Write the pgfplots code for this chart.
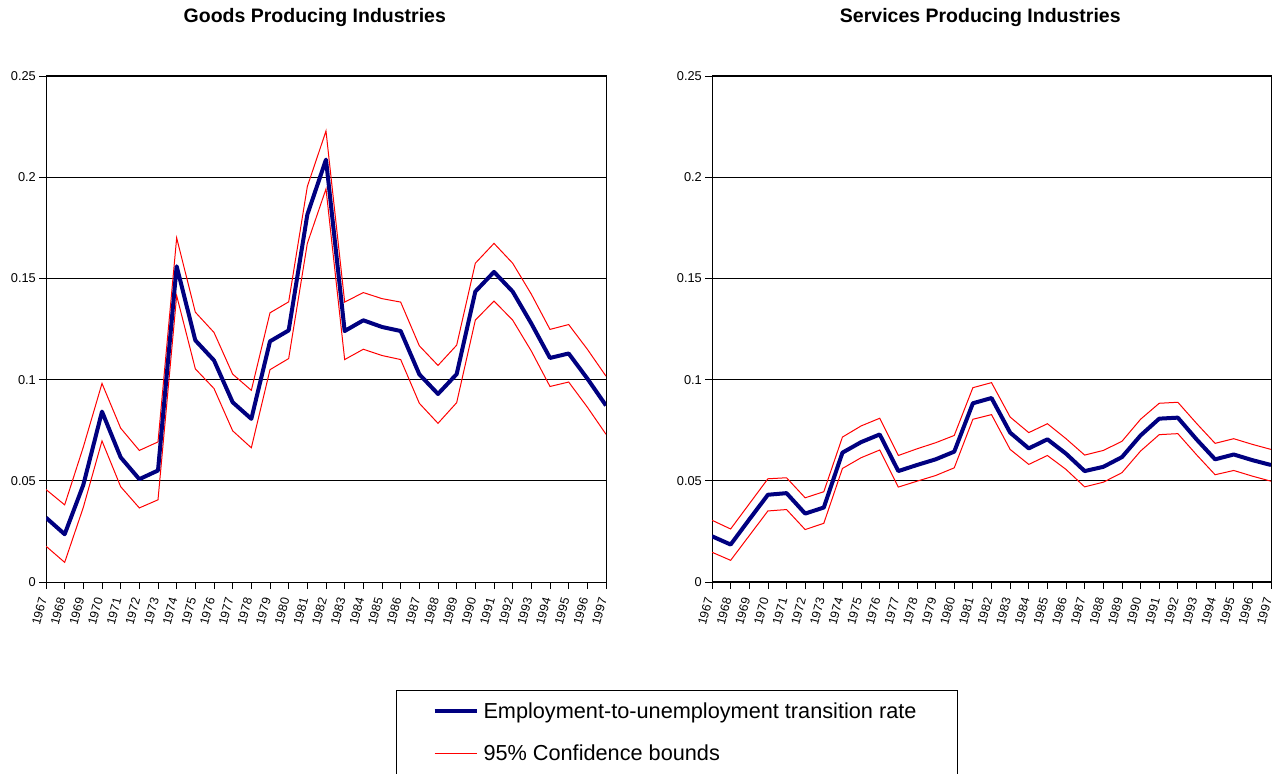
\documentclass[border=0pt]{standalone}
\usepackage{pgfplots}
\pgfplotsset{compat=1.18}
\usepackage{pgfplotstable}
\usepackage{fontspec}
\setmainfont{Liberation Sans}
\definecolor{navyline}{RGB}{0,0,128}

\pgfplotstableread{
year main upper lower
1967 0.0318 0.0457 0.0177
1968 0.0236 0.0381 0.0097
1969 0.0480 0.0667 0.0369
1970 0.0842 0.0981 0.0697
1971 0.0616 0.0760 0.0471
1972 0.0508 0.0650 0.0366
1973 0.0551 0.0692 0.0406
1974 0.1560 0.1700 0.1415
1975 0.1194 0.1333 0.1053
1976 0.1095 0.1233 0.0956
1977 0.0888 0.1027 0.0747
1978 0.0806 0.0947 0.0663
1979 0.1189 0.1330 0.1049
1980 0.1243 0.1384 0.1104
1981 0.1815 0.1954 0.1673
1982 0.2087 0.2228 0.1942
1983 0.1240 0.1383 0.1099
1984 0.1293 0.1430 0.1150
1985 0.1260 0.1400 0.1119
1986 0.1240 0.1383 0.1099
1987 0.1026 0.1167 0.0883
1988 0.0929 0.1070 0.0784
1989 0.1027 0.1170 0.0886
1990 0.1435 0.1575 0.1294
1991 0.1532 0.1673 0.1388
1992 0.1435 0.1575 0.1294
1993 0.1277 0.1422 0.1141
1994 0.1107 0.1248 0.0966
1995 0.1129 0.1272 0.0988
1996 0.1005 0.1150 0.0864
1997 0.0872 0.1017 0.0730
}\goods

\pgfplotstableread{
year main upper lower
1967 0.0226 0.0305 0.0147
1968 0.0185 0.0262 0.0107
1969 0.0309 0.0386 0.0229
1970 0.0431 0.0510 0.0351
1971 0.0439 0.0515 0.0358
1972 0.0338 0.0416 0.0259
1973 0.0368 0.0446 0.0290
1974 0.0639 0.0716 0.0561
1975 0.0691 0.0771 0.0614
1976 0.0729 0.0809 0.0652
1977 0.0548 0.0625 0.0469
1978 0.0578 0.0658 0.0498
1979 0.0606 0.0688 0.0526
1980 0.0644 0.0724 0.0564
1981 0.0883 0.0960 0.0804
1982 0.0909 0.0985 0.0827
1983 0.0738 0.0815 0.0655
1984 0.0660 0.0738 0.0581
1985 0.0705 0.0782 0.0625
1986 0.0634 0.0708 0.0556
1987 0.0548 0.0627 0.0470
1988 0.0569 0.0650 0.0493
1989 0.0617 0.0695 0.0540
1990 0.0724 0.0804 0.0647
1991 0.0807 0.0883 0.0728
1992 0.0812 0.0888 0.0733
1993 0.0705 0.0784 0.0629
1994 0.0606 0.0685 0.0530
1995 0.0630 0.0708 0.0551
1996 0.0602 0.0680 0.0523
1997 0.0578 0.0655 0.0498
}\services

\pgfplotsset{
  panel/.style={
    scale only axis,
    height=506pt,
    xmin=1967, xmax=1997,
    ymin=0, ymax=0.25,
    xtick={1967,1968,1969,1970,1971,1972,1973,1974,1975,1976,1977,1978,1979,1980,1981,1982,1983,1984,1985,1986,1987,1988,1989,1990,1991,1992,1993,1994,1995,1996,1997},
    xticklabels={1967,1968,1969,1970,1971,1972,1973,1974,1975,1976,1977,1978,1979,1980,1981,1982,1983,1984,1985,1986,1987,1988,1989,1990,1991,1992,1993,1994,1995,1996,1997},
    ytick={0,0.05,0.1,0.15,0.2,0.25},
    yticklabels={0,0.05,0.1,0.15,0.2,0.25},
    scaled y ticks=false,
    /pgf/number format/assume math mode=true,
    xtick pos=bottom, ytick pos=left,
    tick align=outside,
    major tick length=7pt,
    tick style={black, line width=0.8pt},
    axis line style={black, line width=1pt},
    ymajorgrids,
    major grid style={black, line width=0.8pt},
    yticklabel style={font=\fontsize{12.8}{14}\selectfont, inner sep=0pt, anchor=east, xshift=-3pt},
    xticklabel style={font=\fontsize{12.3}{13}\selectfont, inner sep=0pt, xshift=-3pt, yshift=-9pt, rotate=75, anchor=east},
    title style={font=\bfseries\fontsize{19.5}{22}\selectfont, anchor=center},
  },
  bound/.style={red, line width=1pt, forget plot},
  mainline/.style={navyline, line width=4pt, line join=round, forget plot},
}

\begin{document}
\begin{tikzpicture}
\begin{axis}[panel, width=560pt, at={(46pt,192pt)}, anchor=south west,
  title={Goods Producing Industries},
  title style={at={(0.48,1.103)}},
  legend style={at={(0.625,-0.2134)}, anchor=north west, draw=black, line width=1pt,
    inner xsep=0pt, inner ysep=0pt, row sep=0pt, column sep=0pt,
    font=\fontsize{21.7}{24}\selectfont,
    cells={anchor=west},
    nodes={inner sep=0pt, minimum height=42pt}},
  legend image code/.code={\path (-36pt,0pt); \draw[#1] (0pt,0pt) -- (42pt,0pt); \path (47pt,0pt);},
]
\addplot[bound] table[x=year, y=upper] {\goods};
\addplot[bound] table[x=year, y=lower] {\goods};
\addplot[mainline] table[x=year, y=main] {\goods};
\addlegendimage{navyline, line width=4pt}
\addlegendentry{\makebox[474pt][l]{Employment-to-unemployment transition rate}}
\addlegendimage{red, line width=1pt}
\addlegendentry{\makebox[474pt][l]{95\% Confidence bounds}}
\end{axis}
\begin{axis}[panel, width=559pt, at={(712pt,192pt)}, anchor=south west,
  title={Services Producing Industries},
  title style={at={(0.48,1.103)}},
]
\addplot[bound] table[x=year, y=upper] {\services};
\addplot[bound] table[x=year, y=lower] {\services};
\addplot[mainline] table[x=year, y=main] {\services};
\end{axis}
\pgfresetboundingbox
\path (0pt,0pt) rectangle (1275pt,774pt);
\end{tikzpicture}
\end{document}
